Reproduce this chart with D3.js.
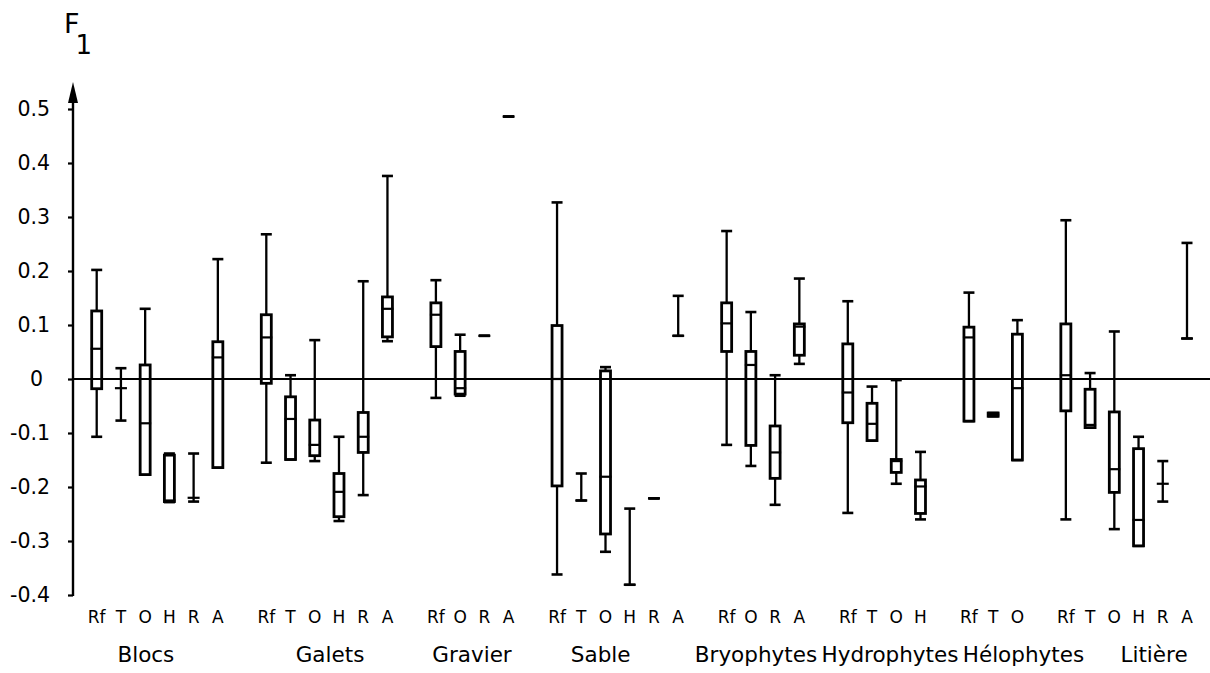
<!DOCTYPE html>
<html>
<head>
<meta charset="utf-8">
<script src="https://cdn.jsdelivr.net/npm/d3@7"></script>
<style>
 body{margin:0;background:#fff;}
 text{font-family:"DejaVu Sans",sans-serif;fill:#000;}
</style>
</head>
<body>
<svg id="chart" width="1210" height="673"></svg>
<script>
// groups and the sub-categories drawn inside each of them
var groups = ["Blocs","Galets","Gravier","Sable","Bryophytes","Hydrophytes","Hélophytes","Litière"];
var cats = [
  ["Rf","T","O","H","R","A"],
  ["Rf","T","O","H","R","A"],
  ["Rf","O","R","A"],
  ["Rf","T","O","H","R","A"],
  ["Rf","O","R","A"],
  ["Rf","T","O","H"],
  ["Rf","T","O"],
  ["Rf","T","O","H","R","A"]
];
// box plot statistics, one row per group
var whiskHi = [
  [0.202, 0.020, 0.130, -0.138, -0.138, 0.222],
  [0.268, 0.007, 0.072, -0.107, 0.181, 0.376],
  [0.183, 0.082, 0.080, 0.486],
  [0.327, -0.175, 0.022, -0.240, -0.221, 0.154],
  [0.274, 0.124, 0.007, 0.186],
  [0.144, -0.014, -0.002, -0.135],
  [0.160, -0.063, 0.109],
  [0.294, 0.011, 0.088, -0.107, -0.152, 0.252]
];
var boxHi = [
  [0.126, -0.017, 0.026, -0.141, -0.220, 0.069],
  [0.119, -0.033, -0.076, -0.175, -0.062, 0.152],
  [0.141, 0.051, 0.080, 0.486],
  [0.099, -0.225, 0.015, -0.381, -0.221, 0.080],
  [0.141, 0.051, -0.087, 0.102],
  [0.065, -0.045, -0.149, -0.187],
  [0.096, -0.063, 0.083],
  [0.102, -0.019, -0.061, -0.129, -0.194, 0.075]
];
var medians = [
  [0.056, -0.017, -0.082, -0.225, -0.220, 0.040],
  [0.077, -0.074, -0.122, -0.209, -0.107, 0.130],
  [0.119, -0.017, 0.080, 0.486],
  [0.000, -0.225, -0.181, -0.381, -0.221, 0.080],
  [0.103, 0.026, -0.136, 0.097],
  [-0.025, -0.083, -0.152, -0.199],
  [0.077, -0.066, -0.017],
  [0.007, -0.085, -0.167, -0.261, -0.194, 0.075]
];
var boxLo = [
  [-0.018, -0.017, -0.177, -0.227, -0.220, -0.164],
  [-0.008, -0.149, -0.142, -0.255, -0.136, 0.078],
  [0.060, -0.028, 0.080, 0.486],
  [-0.198, -0.225, -0.287, -0.381, -0.221, 0.080],
  [0.051, -0.123, -0.184, 0.044],
  [-0.081, -0.114, -0.173, -0.249],
  [-0.078, -0.069, -0.150],
  [-0.059, -0.090, -0.210, -0.309, -0.194, 0.075]
];
var whiskLo = [
  [-0.107, -0.077, -0.177, -0.228, -0.227, -0.164],
  [-0.155, -0.149, -0.152, -0.263, -0.215, 0.070],
  [-0.035, -0.031, 0.080, 0.486],
  [-0.362, -0.225, -0.320, -0.381, -0.221, 0.080],
  [-0.122, -0.161, -0.233, 0.028],
  [-0.248, -0.114, -0.194, -0.260],
  [-0.078, -0.069, -0.150],
  [-0.260, -0.090, -0.278, -0.309, -0.227, 0.075]
];
var yTicks = [-0.4, -0.3, -0.2, -0.1, 0, 0.1, 0.2, 0.3, 0.4, 0.5];

// layout: where each group name sits, in slot units from its first box
var labelShift = [2.03, 2.63, 1.49, 1.8, 1.21, 1.74, 2.25, 3.64];

var svg = d3.select("#chart");

// one slot per box, one empty slot between groups
var items = [], firstSlot = [], slot = 0;
groups.forEach(function(g, gi){
  firstSlot.push(slot);
  cats[gi].forEach(function(c, ci){
    items.push({g:g, cat:c, slot:slot,
      wl:whiskLo[gi][ci], bl:boxLo[gi][ci], med:medians[gi][ci],
      bh:boxHi[gi][ci], wh:whiskHi[gi][ci]});
    slot++;
  });
  slot++;
});
var lastSlot = slot - 2;

var x = d3.scaleLinear().domain([0, lastSlot]).range([96.7, 1187]);
var y = d3.scaleLinear().domain([-0.4, 0.5]).range([595, 109]);
var axisX = 73, boxW = 10, capW = 11;

// y axis
var yAxis = d3.axisLeft(y).tickValues(yTicks).tickSize(5).tickPadding(18)
  .tickFormat(function(d){ return d === 0 ? "0" : String(+d.toFixed(1)); });
var ga = svg.append("g").attr("transform", "translate(" + axisX + ",0)").call(yAxis);
ga.select(".domain").remove();
ga.selectAll(".tick line").attr("stroke", "#000").attr("stroke-width", 2.2);
ga.selectAll(".tick text").attr("font-size", "20.5px").attr("font-family", "DejaVu Sans").attr("fill", "#000");
ga.selectAll(".tick").filter(function(d){ return d === 0; }).select("text").attr("dx", -7);

var topY = y(0.5) - 27;
svg.append("line").attr("x1", axisX).attr("x2", axisX)
  .attr("y1", y(-0.4) + 1).attr("y2", topY + 12)
  .attr("stroke", "#000").attr("stroke-width", 2.4);
svg.append("path")
  .attr("d", "M" + (axisX - 5) + "," + (topY + 21) + "L" + axisX + "," + topY + "L" + (axisX + 5) + "," + (topY + 21) + "Z")
  .attr("fill", "#000");

// axis title F1, subscript as a shifted tspan
var ft = svg.append("text").attr("x", 64).attr("y", 33).attr("font-size", "27px");
ft.append("tspan").text("F");
ft.append("tspan").attr("dx", -4).attr("dy", 21).attr("font-size", "26px").text("1");

// boxes
var gb = svg.append("g").attr("id", "boxes");
var bx = gb.selectAll("g.bx").data(items).enter().append("g").attr("class", "bx")
  .attr("transform", function(d){ return "translate(" + x(d.slot) + ",0)"; });
bx.append("line").attr("x1", 0).attr("x2", 0)
  .attr("y1", function(d){ return y(d.wl); }).attr("y2", function(d){ return y(d.wh); })
  .attr("stroke", "#000").attr("stroke-width", 2.3);
bx.append("line").attr("x1", -capW / 2).attr("x2", capW / 2)
  .attr("y1", function(d){ return y(d.wh); }).attr("y2", function(d){ return y(d.wh); })
  .attr("stroke", "#000").attr("stroke-width", 2.6);
bx.append("line").attr("x1", -capW / 2).attr("x2", capW / 2)
  .attr("y1", function(d){ return y(d.wl); }).attr("y2", function(d){ return y(d.wl); })
  .attr("stroke", "#000").attr("stroke-width", 2.6);
bx.append("rect").attr("x", -boxW / 2).attr("width", boxW)
  .attr("y", function(d){ return y(d.bh); })
  .attr("height", function(d){ return Math.max(0, y(d.bl) - y(d.bh)); })
  .attr("fill", "#fff").attr("stroke", "#000").attr("stroke-width", 2.8);
bx.append("line").attr("x1", -boxW / 2 - 1).attr("x2", boxW / 2 + 1)
  .attr("y1", function(d){ return y(d.med); }).attr("y2", function(d){ return y(d.med); })
  .attr("stroke", "#000").attr("stroke-width", 2.2);

// zero line over the boxes
svg.append("line").attr("x1", axisX).attr("x2", 1210)
  .attr("y1", y(0)).attr("y2", y(0))
  .attr("stroke", "#000").attr("stroke-width", 2.2);

// sub-category letters under each box
svg.append("g").selectAll("text").data(items).enter().append("text")
  .attr("x", function(d){ return x(d.slot); })
  .attr("y", 623)
  .attr("text-anchor", "middle")
  .attr("font-size", "17px")
  .text(function(d){ return d.cat; });

// group names
svg.append("g").selectAll("text").data(groups).enter().append("text")
  .attr("x", function(d, i){ return x(firstSlot[i] + labelShift[i]); })
  .attr("y", 662)
  .attr("text-anchor", "middle")
  .attr("font-size", "21.5px")
  .text(function(d){ return d; });
</script>
</body>
</html>
